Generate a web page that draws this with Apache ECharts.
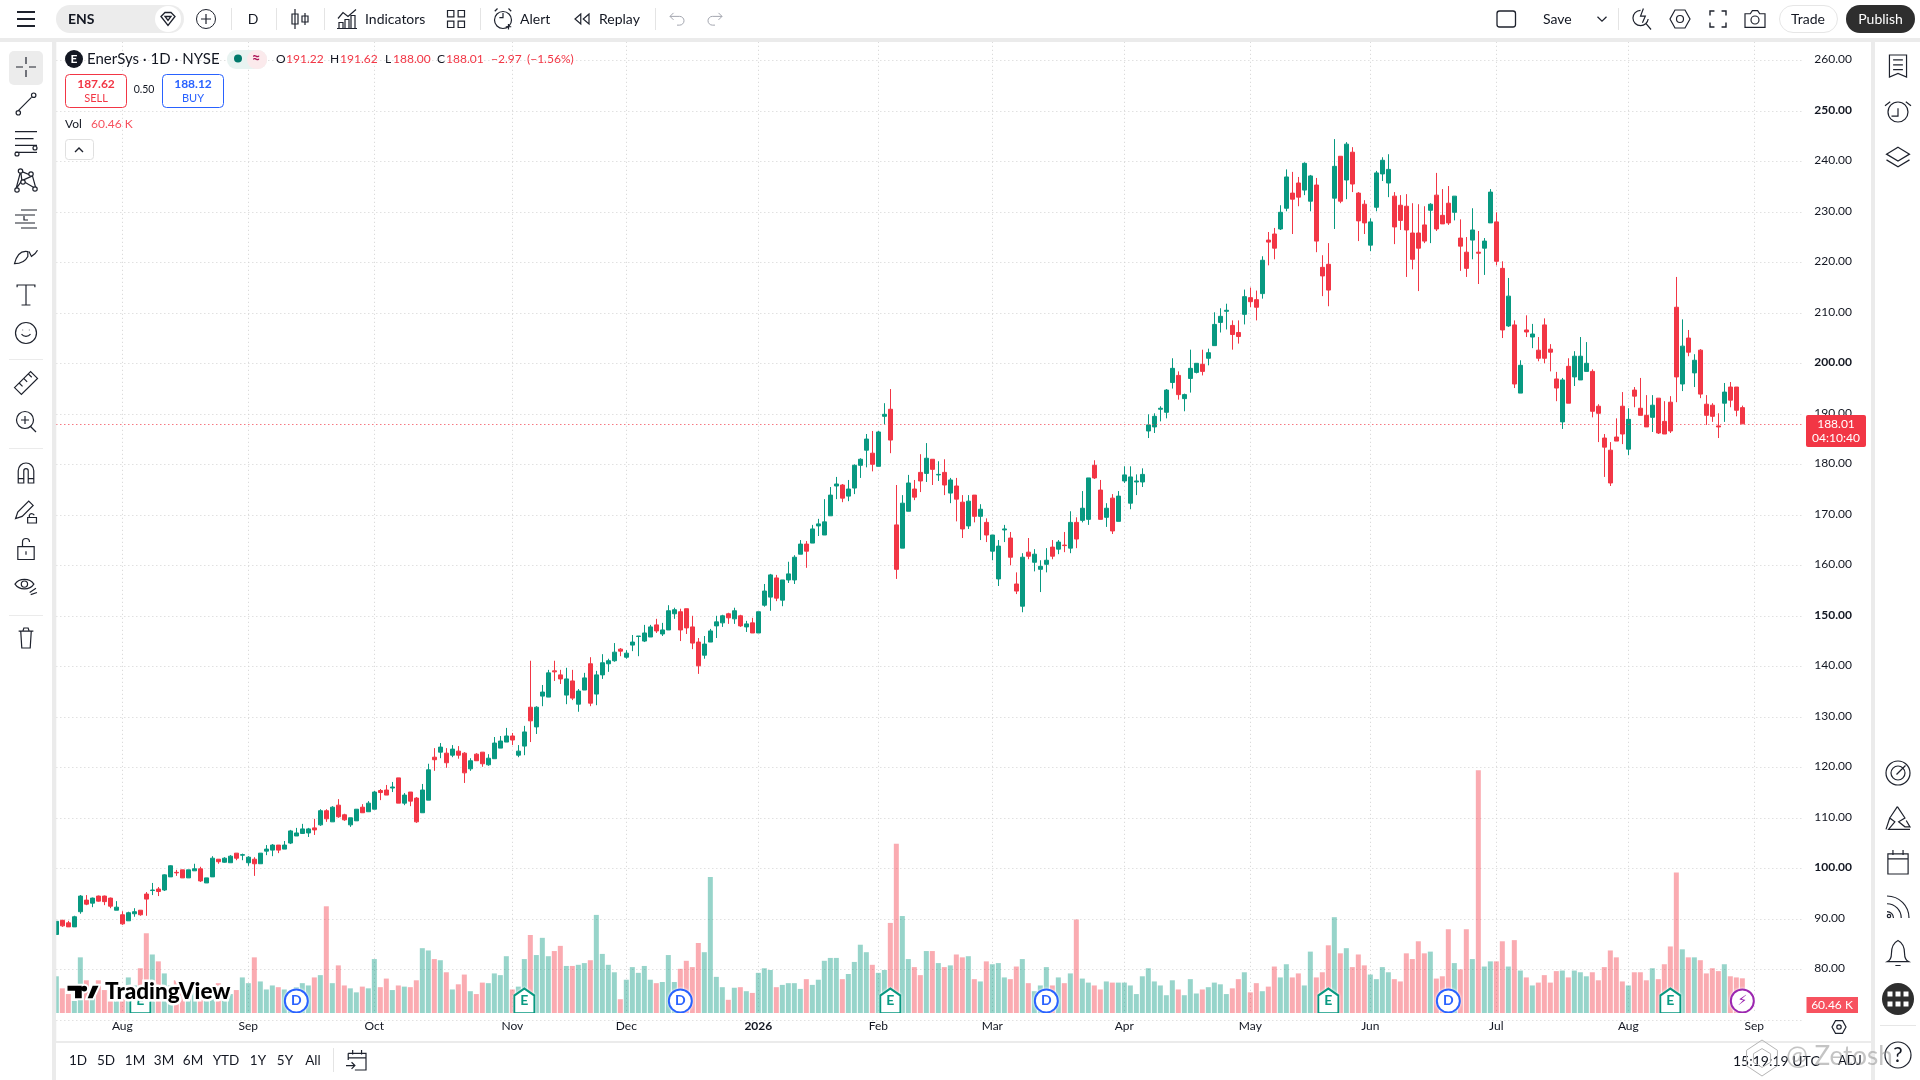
<!DOCTYPE html>
<html><head><meta charset="utf-8"><title>EnerSys 1D</title>
<style>html,body{margin:0;padding:0;background:#fff;overflow:hidden}#c{width:1920px;height:1080px}</style>
<script src="https://cdn.jsdelivr.net/npm/echarts@6/dist/echarts.min.js"></script></head><body><div id="c"></div>
<script>
const opens=[86.9,89.7,89.2,88.4,91.4,93.7,93.1,94.5,94.5,94.1,
91.7,90.8,89.6,91.0,91.7,94.9,95.6,95.9,95.7,98.3,
99.2,99.7,98.1,99.5,99.9,97.1,98.3,101.8,101.2,101.1,
103.0,102.6,101.1,101.8,100.9,103.4,103.6,104.6,103.8,105.0,
106.4,106.9,107.0,108.0,108.6,111.4,109.2,112.5,110.6,108.6,
109.4,112.1,111.2,111.7,115.4,115.5,115.9,117.9,112.9,115.1,
113.9,111.0,113.5,122.0,123.0,122.8,122.4,123.2,122.8,119.7,
122.6,123.0,120.5,121.7,123.8,125.0,126.2,122.4,124.2,131.9,
128.0,134.1,133.9,139.1,138.3,134.3,137.1,132.5,135.3,140.5,
134.5,138.3,140.5,141.1,143.4,141.8,144.2,145.9,145.0,145.8,
148.2,146.4,147.2,150.4,150.8,151.4,147.8,144.8,142.2,144.8,
148.0,148.6,150.4,149.4,150.0,147.8,148.6,146.6,152.1,153.7,
157.5,153.1,157.1,157.1,162.2,164.2,164.4,167.8,166.0,169.8,
175.7,175.9,173.7,175.3,179.8,182.8,182.2,179.6,189.5,190.9,
168.0,163.4,170.7,175.1,178.4,178.2,181.0,177.9,178.4,174.3,
175.7,172.5,167.8,173.9,169.7,168.5,162.8,157.3,167.0,165.4,
156.3,151.9,162.6,160.6,159.2,160.2,163.6,163.2,164.0,163.4,
168.5,168.9,169.1,179.8,174.9,169.5,173.3,168.7,176.7,172.3,
176.5,176.5,186.6,187.4,190.9,190.3,196.2,197.6,193.0,197.0,
198.2,199.8,201.0,203.5,208.1,210.3,207.5,206.1,209.7,213.0,
212.6,213.8,224.4,225.6,226.6,230.7,233.7,235.7,234.3,232.1,
235.3,219.0,219.6,232.7,241.0,236.3,241.8,233.7,231.5,223.4,
230.9,237.5,235.7,233.1,231.3,231.1,225.8,225.8,227.4,230.3,
233.3,229.3,231.7,229.9,224.8,222.0,224.4,222.0,222.8,227.8,
228.0,218.8,207.4,207.6,194.1,206.6,205.2,202.6,207.6,202.8,
196.9,188.4,199.4,197.3,196.7,198.4,198.4,191.5,185.2,182.8,
185.4,191.5,183.0,194.7,191.1,189.7,189.3,193.1,188.5,192.3,
211.1,195.9,205.0,198.1,202.6,191.9,191.7,187.6,192.1,195.3,
195.3,191.22];
const closes=[89.5,88.6,88.4,90.4,94.5,92.9,94.1,93.5,93.4,92.5,
92.3,89.0,91.2,91.4,90.8,93.9,95.7,95.4,98.7,100.5,
99.1,98.1,99.7,99.9,97.5,98.1,102.0,101.3,102.0,102.4,
102.0,102.7,102.2,100.9,103.0,103.8,104.6,103.6,104.6,107.4,
107.0,107.8,107.8,107.6,111.4,109.8,112.1,110.2,109.6,110.0,
111.7,111.0,112.9,115.1,115.0,114.5,116.1,112.9,114.5,113.3,
109.2,115.5,119.5,121.5,124.0,120.9,123.6,122.4,118.9,121.3,
121.3,120.7,121.8,124.8,125.2,126.2,125.4,123.2,127.0,129.2,
131.9,134.9,138.7,138.9,137.5,137.5,133.7,135.1,137.7,132.7,
138.3,140.7,141.1,142.8,143.0,142.6,144.8,146.0,146.6,147.8,
147.0,147.2,151.0,151.2,147.2,147.6,144.6,140.1,144.4,147.0,
148.8,150.0,149.6,151.0,148.0,148.4,146.6,150.8,154.9,158.1,
153.5,157.1,158.3,161.6,164.2,162.8,167.2,168.2,168.6,173.9,
176.1,173.3,175.1,179.8,181.0,185.0,180.0,186.4,189.9,184.8,
159.2,172.3,176.3,173.5,176.7,181.2,179.0,178.0,175.9,176.9,
173.1,167.2,172.7,169.7,171.1,166.0,166.0,163.8,167.2,161.6,
154.9,161.6,161.8,162.2,159.8,161.0,161.8,164.6,163.9,168.5,
165.2,171.3,177.3,177.3,169.1,171.3,166.8,173.7,177.9,177.5,
176.7,178.0,187.8,189.5,191.1,194.7,199.0,193.8,193.8,199.0,
200.0,198.4,202.1,207.7,209.3,210.5,205.7,205.3,213.2,212.2,
211.1,220.4,224.0,222.8,229.9,236.9,232.5,232.9,239.6,237.1,
224.2,217.3,214.5,239.0,232.1,243.4,235.5,228.2,227.8,228.0,
237.7,240.2,238.4,227.0,228.3,226.4,220.6,222.8,224.2,231.5,
226.6,227.6,227.8,233.1,223.2,218.8,226.4,221.8,224.2,233.9,
220.2,206.6,213.3,195.9,199.6,206.2,205.8,201.0,201.0,202.2,
195.1,196.7,192.1,201.4,201.4,200.0,190.5,190.1,183.4,176.3,
184.6,186.0,188.9,193.5,189.7,187.4,191.7,186.2,186.0,186.6,
197.3,203.4,202.2,200.6,193.9,189.7,189.5,187.4,194.3,192.7,
190.7,188.01];
const lows=[86.9,88.4,88.4,88.4,91.0,92.7,92.3,93.4,92.7,92.1,
91.7,88.8,89.6,90.4,90.6,90.6,94.7,94.5,95.5,98.3,
98.5,98.1,98.1,99.5,97.3,97.1,98.3,100.9,101.1,101.1,
101.6,101.6,100.5,98.5,100.9,102.6,102.4,103.0,103.8,104.8,
106.4,106.8,106.2,106.6,108.4,109.2,109.2,110.0,109.4,108.2,
109.4,111.0,111.2,111.7,113.5,114.5,115.1,112.9,112.5,112.3,
109.0,111.0,113.5,119.3,121.8,119.9,122.0,121.7,116.9,119.3,
121.3,120.1,120.3,121.7,123.8,125.0,124.4,122.0,122.4,125.0,
126.6,132.1,133.9,137.1,136.5,132.5,133.3,131.0,135.3,132.1,
132.3,137.5,138.9,140.9,142.0,141.5,143.0,142.0,144.8,145.8,
146.6,146.0,147.2,149.4,145.0,146.4,143.4,138.5,141.5,144.8,
145.6,147.8,148.4,148.4,147.8,146.8,146.6,146.6,151.8,151.0,
152.9,151.9,156.5,156.3,162.2,159.5,164.4,165.8,166.0,169.8,
173.1,172.5,172.7,174.1,177.3,179.4,178.6,179.6,187.9,182.2,
157.3,163.4,170.7,172.9,174.5,176.5,175.9,176.7,173.9,172.3,
168.7,165.4,167.2,168.5,165.0,164.6,161.0,155.9,164.6,160.0,
154.3,150.7,161.2,158.8,154.7,158.6,161.2,162.2,162.6,162.4,
163.4,168.5,168.0,177.1,169.1,167.6,166.2,168.7,176.3,171.1,
173.9,175.5,185.2,186.2,188.5,189.1,195.0,192.8,190.5,194.2,
198.0,197.6,199.6,203.5,206.1,206.7,202.7,203.9,207.7,211.1,
208.5,212.8,219.4,220.6,226.4,230.1,225.6,231.1,233.3,230.1,
222.0,213.3,211.3,226.6,231.7,232.5,233.9,224.2,225.6,222.2,
230.1,236.1,232.9,223.6,226.4,217.1,218.6,214.3,223.8,223.8,
226.2,227.6,227.4,228.3,218.3,217.1,220.6,215.7,217.5,227.8,
219.4,205.0,207.2,195.1,194.1,205.2,203.0,200.4,200.0,198.4,
192.5,187.0,192.1,195.5,196.7,198.4,189.3,184.4,177.5,175.7,
184.6,184.0,181.8,191.3,189.7,187.4,186.4,186.0,186.0,186.2,
192.3,194.5,201.4,195.3,193.1,187.8,188.4,185.2,188.4,191.3,
189.5,188.00];
const highs=[89.5,89.8,89.6,90.6,94.7,94.7,94.2,94.6,94.6,94.2,
93.5,91.5,91.4,92.1,91.7,95.3,97.1,96.3,98.8,100.6,
99.7,99.7,99.7,100.9,100.3,98.1,102.4,101.8,102.2,102.6,
103.0,102.9,102.4,102.2,103.0,104.6,104.8,104.6,105.4,107.6,
108.0,108.8,108.0,109.8,111.7,111.7,112.3,113.7,110.8,110.0,
111.7,112.7,113.3,115.3,115.7,116.5,117.1,117.9,114.9,115.1,
114.1,116.7,120.7,123.8,124.8,123.8,124.4,124.2,123.0,121.8,
122.8,123.0,122.6,126.0,126.2,127.8,126.8,124.4,128.2,141.1,
132.1,136.3,139.3,141.1,139.3,139.7,139.3,135.5,138.7,141.8,
139.1,142.4,141.5,144.6,143.6,143.2,146.2,146.0,148.2,148.2,
149.4,148.6,152.1,151.6,151.4,151.4,150.0,145.6,146.0,147.4,
150.0,150.2,150.6,151.6,150.2,149.0,149.6,150.8,156.3,158.3,
158.1,157.1,160.7,162.0,165.0,164.8,168.0,169.2,173.1,175.5,
177.5,176.1,176.9,180.0,181.2,186.0,186.6,186.6,192.1,194.9,
175.9,173.9,177.9,176.9,182.0,184.2,181.0,180.6,181.0,177.3,
177.3,173.9,173.9,173.9,172.1,169.3,166.0,165.0,168.0,166.6,
158.6,162.4,165.4,163.2,161.0,163.4,165.0,165.0,166.6,170.7,
169.5,174.7,177.3,180.8,176.9,172.3,174.1,174.7,179.6,179.6,
178.0,179.2,189.9,190.1,191.5,194.9,201.0,198.4,194.0,202.7,
200.0,202.7,202.9,210.1,210.9,211.8,208.5,208.5,214.6,215.0,
214.4,221.2,226.0,226.8,231.3,238.4,237.9,236.9,239.8,237.3,
236.7,221.4,223.8,244.4,241.0,243.8,242.8,233.9,232.3,228.7,
238.1,240.8,241.4,233.9,233.3,233.5,231.7,231.5,231.1,231.7,
237.7,234.5,235.1,233.1,228.5,225.0,230.7,226.2,224.8,234.5,
229.9,220.2,216.9,208.5,200.6,209.5,207.8,205.2,208.9,203.8,
198.3,197.1,201.0,202.4,205.2,204.2,198.8,191.9,186.0,184.4,
189.1,194.3,191.1,195.3,197.1,193.7,193.7,193.1,192.5,193.5,
217.1,208.7,206.6,201.8,202.8,193.7,192.1,190.1,196.1,196.3,
195.3,191.62];
const volumes=[64,43,33,21,97,57,40,57,40,40,
35,30,62,48,78,139,102,90,69,48,
57,48,40,40,42,40,48,52,40,33,
40,62,52,97,55,41,48,45,41,36,
45,52,48,62,66,186,52,83,48,43,
36,46,43,94,45,60,40,48,46,45,
57,113,109,94,92,71,41,50,67,38,
33,53,52,69,66,99,41,46,94,136,
101,131,99,108,117,82,82,84,87,92,
171,103,84,71,24,58,80,70,82,58,
52,54,101,54,77,91,80,122,106,237,
63,45,23,44,45,38,35,70,78,75,
45,49,52,52,42,59,49,58,91,96,
96,59,68,89,119,106,84,70,75,157,
295,169,94,80,66,108,108,87,80,83,
102,97,99,59,55,90,85,87,62,59,
81,94,52,38,48,80,48,62,52,69,
163,60,53,48,41,55,53,53,53,48,
33,64,78,55,48,31,57,41,31,59,
34,41,45,53,50,33,43,59,71,36,
52,38,46,81,62,85,62,69,48,107,
62,71,118,167,104,113,80,102,83,67,
59,80,71,59,55,104,94,125,104,107,
60,64,146,87,76,146,94,423,81,90,
90,125,81,127,74,62,48,53,66,53,
73,74,62,74,71,64,71,57,80,109,
97,55,48,71,71,57,78,59,85,116,
245,111,97,97,92,69,78,73,85,64,
62,60.46];
const tickPositions=[11,32,53,76,95,117,137,156,178,199,219,240,262,283];
const tickNames=['Aug','Sep','Oct','Nov','Dec','2026','Feb','Mar','Apr','May','Jun','Jul','Aug','Sep'];
const slotCount=292;
const eventPositions=[14,40,78,104,139,165,212,232,269,281];
const eventKinds=['E','D','E','D','E','D','E','D','E','S'];
const boldPrices=[100,150,200,250];
const lastPrice=188.01;

const UP='#089981',DOWN='#F23645',GRID='#d2d2d2',INK='#131722',BAND='#ebebeb';
const FONT='Lato, "Noto Sans", sans-serif';
const categories=Array.from({length:slotCount},(_,i)=>{const k=tickPositions.indexOf(i);return k<0?'':tickNames[k];});
const candle=opens.map((o,i)=>[o,closes[i],lows[i],highs[i]]);
const volData=volumes.map((v,i)=>({value:v,itemStyle:{color:closes[i]>=opens[i]?'rgba(8,153,129,0.42)':'rgba(242,54,69,0.42)'}}));
const isTick=i=>tickPositions.includes(i);

const g=[];
let shapeNo=0;const shapeMemo={};
function iconShape(d){
 if(shapeMemo[d])return shapeMemo[d];
 const C=echarts.graphic.extendPath(d,{});
 const name='tvIcon'+(shapeNo++);
 echarts.graphic.registerShape(name,C);
 const b=new C().getBoundingRect();
 return shapeMemo[d]={name,b:{x:b.x,y:b.y,w:b.width||1,h:b.height||1}};
}
const rect=(x,y,w,h,fill,o={})=>g.push({type:'rect',z:o.z||50,silent:true,shape:{x,y,width:w,height:h,r:o.r||0},style:{fill,stroke:o.stroke||null,lineWidth:o.lw||1}});
const txt=(t,x,y,o={})=>g.push({type:'text',z:o.z||60,silent:true,x,y,style:{text:t,fill:o.c||INK,font:(o.w?o.w+' ':'')+(o.s||14)+'px '+FONT,textAlign:o.a||'left',textVerticalAlign:'middle',align:o.a||'left',verticalAlign:'middle',stroke:o.stroke||null,lineWidth:o.lw||0,strokeFirst:true,opacity:o.op==null?1:o.op}});
const ic=(d,cx,cy,s=24,o={})=>{const k=iconShape(d),f=Math.min(s/k.b.w,s/k.b.h);
 g.push({type:k.name,z:o.z||60,silent:true,x:cx-(k.b.x+k.b.w/2)*f,y:cy-(k.b.y+k.b.h/2)*f,scaleX:f,scaleY:f,
  style:{fill:o.fill||'none',stroke:o.stroke===undefined?'#1e222d':o.stroke,lineWidth:(o.lw||1.2)/f,strokeFirst:true}});};
const circ=(cx,cy,r,o={})=>g.push({type:'circle',z:o.z||60,silent:true,shape:{cx,cy,r},style:{fill:o.fill||'none',stroke:o.stroke===undefined?'#1e222d':o.stroke,lineWidth:o.lw||1.2}});
const vsep=(x,y1,y2,c='#e4e4e4')=>rect(x,y1,1,y2-y1,c,{z:55});
const dot='a2 2 0 1 1 -4 0a2 2 0 1 1 4 0';

/* frame */
rect(0,0,1920,38,'#fff');
rect(0,38,1920,4,BAND);
rect(0,42,52,1038,'#fff');
rect(52,38,4.3,1042,BAND);
rect(56,1013,1815,7,'#fff');
rect(56,1041,1815,2,BAND,{z:51});
rect(56,1043,1815,37,'#fff');
rect(1871,38,4,1042,BAND);
rect(1875,42,45,1038,'#fff');

/* top toolbar */
ic('M3 5H21M3 12H21M3 19H21',26,19,18,{lw:2});
rect(56,5,128,28,'#ececec',{r:14,z:52});
txt('ENS',68,19,{s:14,w:'bold'});
circ(168,19,13,{fill:'#fff',stroke:null,z:53});
ic('M5 8L9 4H15L19 8L12 17ZM9 8H15L12 12Z',168,19,14,{lw:1.3});
circ(206,19,9.5,{lw:1});ic('M12 7V17M7 12H17',206,19,10);
vsep(231,8,30);txt('D',253,19,{a:'center',s:14});vsep(276,8,30);
ic('M7 2V22M4 7H10V17H4ZM17 6V18M14 9H20V15H14Z',300,19,20,{lw:1.2});
vsep(324,8,30);
ic('M3 12L8 6L13 10L21 3M4 22V16H8V22M10 22V13H14V22M16 22V9H20V22M2 22H22',347,19,20);
txt('Indicators',365,19);
ic('M4 4H10V10H4ZM14 4H20V10H14ZM4 14H10V20H4ZM14 14H20V20H14Z',456,19,17);
vsep(480,8,30);
circ(503,20,8.5,{lw:1.2});ic('M12 7V12H8M3 5L6 2M21 5L18 2M18 19V25M15 22H21',503,19,21);
txt('Alert',520,19);
ic('M10 6L3 12L10 18ZM20 6L13 12L20 18Z',582,19,14);
txt('Replay',599,19);
vsep(655,8,30);
ic('M8 5L4 9L8 13M4 9H15A5 5 0 0 1 15 19H12',677,19,14,{stroke:'#a3a6af',lw:1});
ic('M16 5L20 9L16 13M20 9H9A5 5 0 0 0 9 19H12',715,19,14,{stroke:'#a3a6af',lw:1});
rect(1497,11,18.5,16,'#fff',{r:2.5,stroke:'#1e222d',lw:1.3,z:60});
txt('Save',1543,19);
ic('M6 9L12 15L18 9',1602,19,9);
vsep(1618,8,30);
ic('M11 4A8 8 0 1 0 19 13M17 18L22 24M14 2L11 10H16L13 17',1642,19,21);
ic('M7 3H17L22 12L17 21H7L2 12Z',1680,19,20);circ(1680,19,3.5);
ic('M3 8V3H8M16 3H21V8M21 16V21H16M8 21H3V16',1718,19,16,{lw:1.4});
ic('M3 7H8L10 4H15L17 7H22V20H3Z',1755,19,20);circ(1755,20,4);
rect(1779.5,5.5,58,27,'#fff',{r:13.5,stroke:'#e6e6e6'});
txt('Trade',1808,19,{a:'center'});
rect(1846,5,69,28,'#2e2e2e',{r:14,z:52});
txt('Publish',1880.5,19,{a:'center',c:'#fff'});

/* left toolbar */
rect(9,51,34,34,'#ececec',{r:5,z:52});
const lx=26;
ic('M12 2V9M12 15V22M2 12H9M15 12H22',lx,67,20);
ic('M6 18L18 6M8 20'+dot+'M22 4'+dot,lx,104,22);
ic('M3 5H22M3 11H19M3 17H22M3 23H22',lx,142,22);circ(35,148,2);circ(17,154,2);
ic('M5 20L9 5L19 9L22 20L10 13L5 20M9 5L10 13M19 9L10 13',lx,180,20);
circ(17,190,2.2,{fill:'#fff'});circ(20.5,171,2.2,{fill:'#fff'});circ(31,174,2.2,{fill:'#fff'});circ(35,189,2.2,{fill:'#fff'});circ(23,182,2.2,{fill:'#fff'});
ic('M7 5H23M1 10H21M1 18H21M7 23H23M10 11V15H14',lx,219,22);
ic('M3 20C5 12 9 9 14 10L14 14C12 18 8 20 3 20ZM15 10L17 14C19 13 21 11 22 9',lx,257,23);
ic('M4 5V3H20V5M12 3V21M8 21H16',lx,295,20);
circ(lx,333,10.5);ic('M9 10V10.5M15 10V10.5M8 14C10 16.5 14 16.5 16 14',lx,333,9);
rect(9,359,34,1,'#ebebeb',{z:55});
ic('M3 17L17 3L23 9L9 23ZM7 13L10 16M11 9L14 12M15 5L18 8',lx,383,23);
circ(25,420,8.5);ic('M12 8V16M8 12H16',25,420,8);ic('M1 1L6 6',33,429,6);
rect(9,448,34,1,'#ebebeb',{z:55});
ic('M5 22V11A7 7 0 0 1 19 11V22H14V11A2 2 0 0 0 10 11V22ZM5 18H10M14 18H19',lx,473,20);
ic('M3 21L5 15L15 5L19 9L9 19ZM14 20H22V25H14ZM15.5 20V18A2.5 2.5 0 0 1 20 18',lx,512,22);
ic('M5 11H19V22H5ZM9 11V7A3 3 0 0 1 15 7M12 15V18',lx,549,21);
ic('M2 11C6 5 16 5 20 11C16 17 6 17 2 11ZM14 11'+'a3 3 0 1 1 -6 0a3 3 0 1 1 6 0M16 19L22 15M17 21L23 19',lx,587,22);
rect(9,615,34,1,'#ebebeb',{z:55});
ic('M5 6H19M7 6L8 22H16L17 6M9 6L10 3H14L15 6',lx,638,20);

/* right toolbar */
const rx=1898;
ic('M5 3H19V21L12 18L5 21ZM8 7H16M8 11H16M8 15H16',rx,66,22);
circ(rx,112,10);ic('M12 6V12H7M2 4L6 1M22 4L18 1',rx,109,26);
ic('M12 3L22 9L12 15L2 9ZM2 14L12 20L22 14',rx,157,23);
circ(rx,773,12);circ(rx,773,7);ic('M12 12L20 4',rx+3,770,9,{lw:1.3});
ic('M12 3L18 12L13 15L18 19H22L19 14M12 3L6 12L10 15L5 21H22M6 12L3 21',rx,818,24);
ic('M4 6H20V22H4ZM4 10H20M8 3V7M16 3V7',rx,862,24);
ic('M4 4A17 17 0 0 1 21 21M4 10A11 11 0 0 1 15 21M4 16A5 5 0 0 1 9 21',rx,907,22);circ(1889,916,1.7);
ic('M12 2C8 4 7 8 7 12C7 15 6 17 4 18H20C18 17 17 15 17 12C17 8 16 4 12 2ZM10 21H14',rx,953,25);
circ(rx,999,16,{fill:'#2e2e2e',stroke:null});
for(const dx of[-8,0,8])for(const dy of[-5,5])rect(rx+dx-2.5,999+dy-2.5,5,5,'#fff',{z:61});
rect(1880,1025,36,1,'#e6e6e6',{z:55});
circ(rx,1055,13);txt('?',rx,1055,{a:'center',s:21});

/* legend */
circ(74,59,9,{fill:'#131722',stroke:null});
txt('E',74,59,{a:'center',c:'#fff',s:12,w:'bold'});
txt('EnerSys · 1D · NYSE',87,59,{s:15});
rect(227,50,40,19,'#e8f3f1',{r:9,z:52});
rect(247,50,20,19,'#fbeaec',{r:9,z:52});
circ(238,58.5,4,{fill:'#00796b',stroke:null});
txt('≈',256,58.5,{a:'center',c:'#ad1457',s:15,w:'bold'});
[['O',276],['H',330],['L',385],['C',437]].forEach(a=>txt(a[0],a[1],59,{s:12}));
[['191.22',286],['191.62',340],['188.00',393],['188.01',446],['−2.97',491],['(−1.56%)',527]].forEach(a=>txt(a[0],a[1],59,{s:12,c:DOWN}));
rect(65.5,74.5,61,33,'#fff',{r:4,stroke:DOWN,lw:1,z:52});
txt('187.62',96,84,{a:'center',c:DOWN,s:12,w:'bold'});
txt('SELL',96,98,{a:'center',c:DOWN,s:11});
txt('0.50',144,90,{a:'center',s:10.5});
rect(162.5,74.5,61,33,'#fff',{r:4,stroke:'#2962FF',lw:1,z:52});
txt('188.12',193,84,{a:'center',c:'#2962FF',s:12,w:'bold'});
txt('BUY',193,98,{a:'center',c:'#2962FF',s:11});
txt('Vol',65,124,{s:12});
txt('60.46 K',91,124,{s:12,c:'#f7525f'});
rect(65.5,139.5,28,20,'#fff',{r:3,stroke:'#e0e0e0'});
ic('M6 15L12 9L18 15',79,150,8,{lw:1.4});

/* watermark logo */
ic('M0 0H17V15H9V6H0ZM20 0A3.4 3.4 0 1 1 20 6.8A3.4 3.4 0 1 1 20 0ZM24 15L30 0H37L30 15Z',83,992,31,{fill:'#000',stroke:'#fff',lw:4,z:62});
txt('TradingView',105,992,{s:22.5,w:'900',c:'#000',stroke:'#fff',lw:5,z:62});

/* price and volume tags */
rect(1806,415,60,32,DOWN,{r:2,z:52});
txt('188.01',1836,424,{a:'center',c:'#fff',s:12});
txt('04:10:40',1836,438,{a:'center',c:'#fff',s:12});
rect(1806.5,997,51.5,16,'#f7525f',{z:52});
txt('60.46 K',1832,1005,{a:'center',c:'#fff',s:12});
ic('M7 3H17L22 12L17 21H7L2 12Z',1839,1027,14);circ(1839,1027,2.2);

/* bottom bar */
[['1D',78],['5D',106],['1M',135],['3M',164],['6M',193],['YTD',226],['1Y',258],['5Y',285],['All',313]].forEach(a=>txt(a[0],a[1],1061,{a:'center',s:13.5}));
vsep(333,1048,1072);
ic('M4 6H20V21H10M4 6V12M4 10H20M8 3V7M16 3V7M2 17H10M7 14L10 17L7 20',356,1060,20);
txt('15:19:19 UTC',1733,1061,{s:14});
txt('ADJ',1838,1061,{s:13});
txt('@ Zetosh',1786,1057,{s:26,c:'#8a8a8a',op:0.5,z:65});
ic('M12 2L21 8V17L12 23L3 17V8ZM12 7L17 10V15L12 18L7 15V10Z',1762,1058,36,{stroke:'#b5b5b5',lw:1,z:65});

const kinds={E:{sym:'path://M0,7 L10,0 L20,7 V25 H0 Z',size:[20,25],col:UP,label:'E',font:FONT},
 D:{sym:'circle',size:23,col:'#2962FF',label:'D',font:FONT},
 S:{sym:'circle',size:23,col:'#9C27B0',label:'\u26A1\uFE0E',font:'"DejaVu Sans"'}};
const eventData=eventPositions.map((p,i)=>{const k=kinds[eventKinds[i]];return{value:[p,21],symbol:k.sym,symbolSize:k.size,
 itemStyle:{color:'#fff',borderColor:k.col,borderWidth:2,shadowColor:'#fff',shadowBlur:3,opacity:1},
 label:{show:true,position:'inside',formatter:k.label,color:k.col,fontFamily:k.font,fontSize:14,fontWeight:'bold'}};});

const chart=echarts.init(document.getElementById('c'),null,{renderer:'canvas',width:1920,height:1080});
chart.setOption({
 animation:false,backgroundColor:'#fff',
 grid:[{left:56.33,top:9.8,width:1746,height:1010},{left:56.33,top:513,width:1746,height:500}],
 xAxis:[
  {type:'category',gridIndex:0,data:categories,boundaryGap:false,axisLine:{show:false},axisTick:{show:false},axisLabel:{show:false},
   splitLine:{show:true,interval:isTick,lineStyle:{color:GRID,type:[1,3],width:1}}},
  {type:'category',gridIndex:1,data:categories,boundaryGap:false,axisLine:{show:false},axisTick:{show:false},splitLine:{show:false},
   axisLabel:{show:true,interval:isTick,margin:7,color:INK,fontFamily:FONT,fontSize:12,hideOverlap:false,
    formatter:v=>v==='2026'?'{b|2026}':v,rich:{b:{fontWeight:'bold',fontFamily:FONT,fontSize:12,color:INK}}}}
 ],
 yAxis:[
  {type:'value',gridIndex:0,position:'right',min:70,max:270,interval:10,axisLine:{show:false},axisTick:{show:false},
   splitLine:{show:true,lineStyle:{color:GRID,type:[1,3],width:1}},
   axisLabel:{margin:12,color:INK,fontFamily:FONT,fontSize:12,align:'left',padding:[0,0,2,0],
    formatter:v=>(v===70||v===270)?'':(boldPrices.includes(v)?'{b|'+v.toFixed(2)+'}':v.toFixed(2)),
    rich:{b:{fontWeight:'bold',fontFamily:FONT,fontSize:12,color:INK}}}},
  {type:'value',gridIndex:1,position:'right',min:0,max:871.5,show:false,splitLine:{show:false}}
 ],
 series:[
  {name:'Volume',type:'bar',xAxisIndex:1,yAxisIndex:1,data:volData,barWidth:5,z:2},
  {name:'Price',type:'candlestick',xAxisIndex:0,yAxisIndex:0,data:candle,barWidth:5,z:3,
   itemStyle:{color:UP,color0:DOWN,borderColor:UP,borderColor0:DOWN,borderWidth:1},
   markLine:{silent:true,symbol:'none',label:{show:false},animation:false,
    lineStyle:{color:DOWN,type:[1,3],width:1},data:[{yAxis:lastPrice}]}},
  {name:'Events',type:'scatter',xAxisIndex:1,yAxisIndex:1,data:eventData,z:5,clip:false}
 ],
 graphic:{elements:g}
});
</script></body></html>
